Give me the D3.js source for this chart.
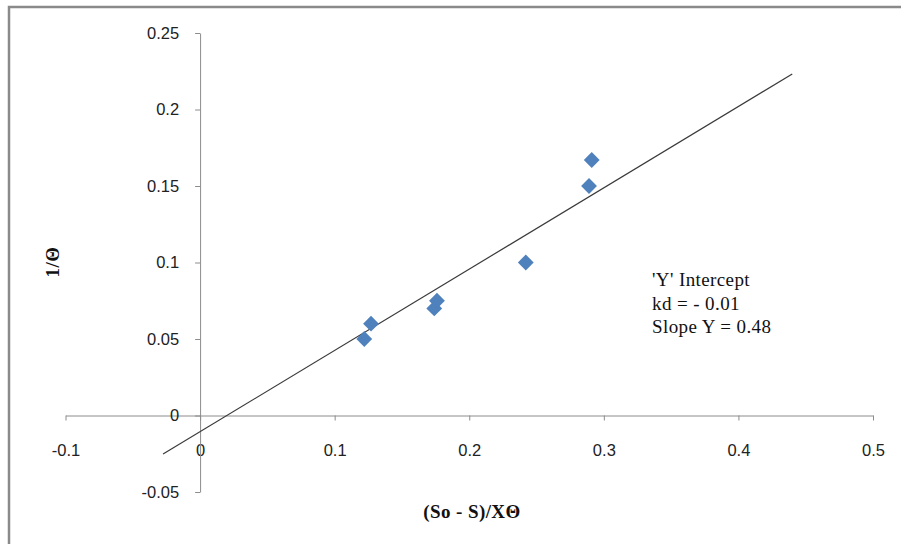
<!DOCTYPE html>
<html>
<head>
<meta charset="utf-8">
<script src="https://cdn.jsdelivr.net/npm/d3@7"></script>
<style>
  body { margin: 0; background: #fff; }
  .axis path, .axis line { stroke: #8c8c8c; stroke-width: 1; }
  .axis text { font-family: "Liberation Sans", Arial, sans-serif; font-size: 16.5px; fill: #222; }
  .axis__label { font-family: "Liberation Serif", "Times New Roman", serif; font-size: 19px; font-weight: bold; fill: #111; letter-spacing: 0.4px; }
  .note { font-family: "Liberation Serif", "Times New Roman", serif; font-size: 19px; fill: #111; letter-spacing: 0.4px; }
</style>
</head>
<body>
<div class="chart"></div>
<script>
// data
const xVals = [0.122, 0.127, 0.174, 0.176, 0.242, 0.289, 0.291]
const yVals = [0.05, 0.06, 0.07, 0.075, 0.1, 0.15, 0.167]
const xTicks = [-0.1, 0, 0.1, 0.2, 0.3, 0.4, 0.5]
const yTicks = [-0.05, 0, 0.05, 0.1, 0.15, 0.2, 0.25]
const trendX = [-0.0275, 0.44]
const trendY = [-0.0252, 0.2232]
const notes = ["'Y' Intercept", "kd = - 0.01", "Slope  Y = 0.48"]

const width = 901
const height = 544

const svg = d3.select('.chart')
  .append('svg')
  .attr('width', width)
  .attr('height', height)

// outer frame (top + left only visible)
svg.append('path')
  .attr('d', `M9,${height} L9,7 L${width},7`)
  .attr('fill', 'none')
  .attr('stroke', '#8a8a8a')
  .attr('stroke-width', 2.5)

const x = d3.scaleLinear()
  .domain([-0.1, 0.5])
  .range([65.5, 873])

const y = d3.scaleLinear()
  .domain([-0.05, 0.25])
  .range([492, 33])

// plain hyphen for negatives, like the original
const fmt = d => d3.format('~g')(d).replace('−', '-')

const xAxis = d3.axisBottom(x)
  .tickValues(xTicks)
  .tickSize(5)
  .tickSizeOuter(0)
  .tickPadding(24)
  .tickFormat(fmt)

const yAxis = d3.axisLeft(y)
  .tickValues(yTicks)
  .tickSize(5)
  .tickSizeOuter(0)
  .tickPadding(16)
  .tickFormat(fmt)

svg.append('g')
  .attr('class', 'axis axis--x')
  .attr('transform', `translate(0,${y(0)})`)
  .call(xAxis)

svg.append('g')
  .attr('class', 'axis axis--y')
  .attr('transform', `translate(${x(0)},0)`)
  .call(yAxis)

// trendline
svg.append('line')
  .attr('x1', x(trendX[0]))
  .attr('y1', y(trendY[0]))
  .attr('x2', x(trendX[1]))
  .attr('y2', y(trendY[1]))
  .attr('stroke', '#3a3a3a')
  .attr('stroke-width', 1.2)

// diamond markers
const diamond = d3.symbol().type(d3.symbolSquare).size(125)

svg.append('g')
  .selectAll('path')
  .data(xVals.map((d, i) => ({ x: d, y: yVals[i] })))
  .join('path')
  .attr('d', diamond)
  .attr('transform', d => `translate(${x(d.x)},${y(d.y)}) rotate(45)`)
  .attr('fill', '#4F81BD')

// axis titles
svg.append('text')
  .attr('class', 'axis__label')
  .attr('text-anchor', 'middle')
  .attr('transform', `translate(59,262) rotate(-90)`)
  .text('1/Θ')

svg.append('text')
  .attr('class', 'axis__label')
  .attr('text-anchor', 'middle')
  .attr('x', 472)
  .attr('y', 518)
  .text('(So - S)/XΘ')

// annotation
svg.append('g')
  .selectAll('text')
  .data(notes)
  .join('text')
  .attr('class', 'note')
  .attr('x', 652)
  .attr('y', (d, i) => 286 + i * 23.5)
  .text(d => d)
</script>
</body>
</html>
